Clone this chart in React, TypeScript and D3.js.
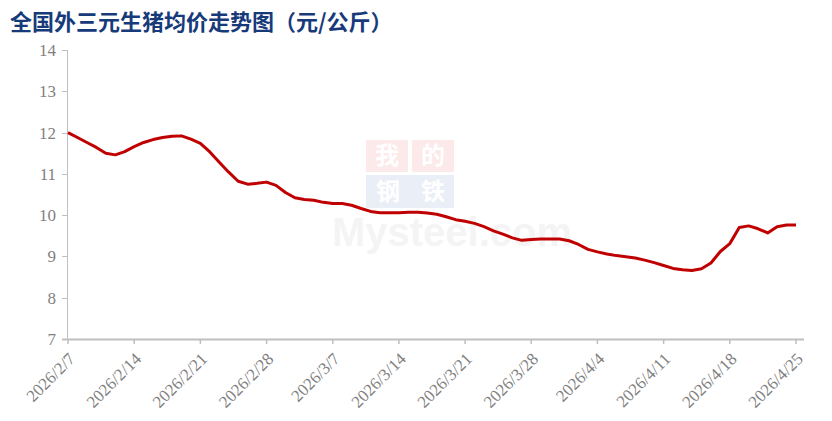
import React from "react";
import * as d3 from "d3";

const TITLE = "全国外三元生猪均价走势图（元/公斤）";
// daily average price (元/公斤), 2026/2/7 .. 2026/4/25
const prices = [
  12.0, 11.88, 11.76, 11.64, 11.5, 11.46, 11.54, 11.66, 11.76, 11.83,
  11.88, 11.91, 11.92, 11.84, 11.74, 11.53, 11.28, 11.04, 10.82, 10.75,
  10.77, 10.8, 10.72, 10.55, 10.42, 10.38, 10.36, 10.31, 10.28, 10.28,
  10.24, 10.16, 10.09, 10.06, 10.06, 10.06, 10.07, 10.07, 10.05, 10.02,
  9.96, 9.89, 9.85, 9.8, 9.72, 9.62, 9.54, 9.45, 9.39, 9.41,
  9.42, 9.42, 9.42, 9.38, 9.29, 9.17, 9.11, 9.06, 9.02, 8.99,
  8.96, 8.91, 8.85, 8.78, 8.71, 8.68, 8.66, 8.7, 8.84, 9.12,
  9.31, 9.7, 9.74, 9.67, 9.57, 9.72, 9.76, 9.76,
];
const xTickLabels = [
  "2026/2/7", "2026/2/14", "2026/2/21", "2026/2/28", "2026/3/7", "2026/3/14",
  "2026/3/21", "2026/3/28", "2026/4/4", "2026/4/11", "2026/4/18", "2026/4/25",
];
const yTicks = [7, 8, 9, 10, 11, 12, 13, 14];

const parseLabel = (s: string) => {
  const [y, m, d] = s.split("/").map(Number);
  return new Date(y, m - 1, d);
};

export default function App() {
  const W = 832, H = 421;
  const left = 68, right = 796, axisEnd = 804, top = 50, bottom = 339;
  const start = parseLabel(xTickLabels[0]);
  const dates = prices.map((_, i) => d3.timeDay.offset(start, i));
  const x = d3.scaleTime().domain([start, parseLabel("2026/4/25")]).range([left, right]);
  const y = d3.scaleLinear().domain([7, 14]).range([bottom, top]);
  const line = d3.line<number>().x((_, i) => x(dates[i])).y((v) => y(v)).curve(d3.curveLinear);
  const gray = "#7f7f7f";
  const axisColor = "#bfbfbf";
  const font = "'Liberation Serif', 'Times New Roman', serif";
  const cjk = "'Noto Sans CJK SC', sans-serif";

  return (
    <svg width={W} height={H} style={{ position: "absolute", left: 0, top: 0, background: "#fff" }}>
      <rect x={0} y={0} width={W} height={H} fill="#fff" />
      {/* watermark */}
      <g opacity={0.1}>
        <rect x={366} y={140} width={42} height={32} fill="#e8343a" />
        <rect x={412} y={140} width={42} height={32} fill="#e8343a" />
        <text x={387} y={164} fontSize={24} fill="#fff" textAnchor="middle" fontFamily={cjk} fontWeight={700}>我</text>
        <text x={433} y={164} fontSize={24} fill="#fff" textAnchor="middle" fontFamily={cjk} fontWeight={700}>的</text>
        <rect x={366} y={175} width={88} height={33} fill="#3a5fb0" />
        <text x={388} y={200} fontSize={24} fill="#fff" textAnchor="middle" fontFamily={cjk} fontWeight={700}>钢</text>
        <text x={433} y={200} fontSize={24} fill="#fff" textAnchor="middle" fontFamily={cjk} fontWeight={700}>铁</text>
        <text x={452} y={246} fontSize={40} fill="#9a9a9a" textAnchor="middle" fontFamily="'Liberation Sans', Arial, sans-serif" fontWeight={700}>Mysteel.com</text>
      </g>

      <text x={10} y={30} fontSize={22} fontWeight={700} fill="#173a7a" fontFamily={cjk}>{TITLE}</text>

      {/* y axis */}
      <line x1={left - 0.5} x2={left - 0.5} y1={top} y2={bottom} stroke={axisColor} strokeWidth={1} />
      {yTicks.map((t) => (
        <g key={t}>
          <line x1={left - 6} x2={left} y1={Math.round(y(t)) + 0.5} y2={Math.round(y(t)) + 0.5} stroke={axisColor} />
          <text x={left - 12} y={y(t)} dy="0.35em" textAnchor="end" fontSize={17} fill={gray} fontFamily={font}>{t}</text>
        </g>
      ))}

      {/* x axis */}
      <line x1={left - 6} x2={axisEnd} y1={bottom + 0.5} y2={bottom + 0.5} stroke={axisColor} strokeWidth={2} />
      {xTickLabels.map((lab) => {
        const px = x(parseLabel(lab));
        return (
          <g key={lab}>
            <line x1={px} x2={px} y1={bottom} y2={bottom + 5} stroke={axisColor} strokeWidth={1.5} />
            <text
              transform={`translate(${px + 8},${bottom + 21}) rotate(-45)`}
              textAnchor="end"
              fontSize={17}
              fill={gray}
              fontFamily={font}
            >{lab}</text>
          </g>
        );
      })}

      <path d={line(prices) || ""} fill="none" stroke="#c00000" strokeWidth={3} strokeLinejoin="round" />
    </svg>
  );
}
